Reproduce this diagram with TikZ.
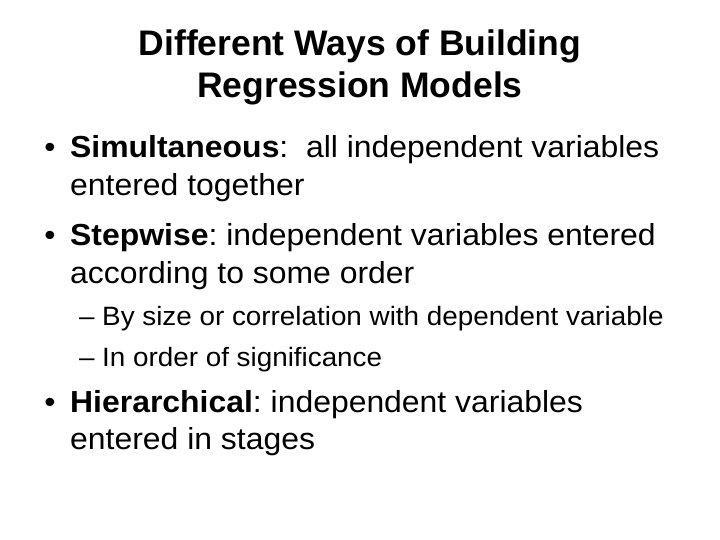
\documentclass[tikz,border=0pt]{standalone}
\usepackage{fontspec}
\setmainfont{Liberation Sans}
\newfontfamily\bodyfont[FakeStretch=1.05]{Liberation Sans}
\frenchspacing
\tikzset{
  slide title/.style={font=\fontsize{35.5}{42}\selectfont\bfseries, anchor=base, inner sep=0pt},
  bullet mark/.style={font=\bodyfont\fontsize{30.4}{37}\selectfont, anchor=base, inner sep=0pt},
  bullet text/.style={font=\bodyfont\fontsize{30.4}{37}\selectfont, anchor=base west, inner sep=0pt},
  sub mark/.style={font=\bodyfont\fontsize{26.5}{32}\selectfont, anchor=base west, inner sep=0pt},
  sub text/.style={font=\bodyfont\fontsize{26.5}{32}\selectfont, anchor=base west, inner sep=0pt}
}

\begin{document}
\begin{tikzpicture}[x=1pt, y=-1pt]
  \useasboundingbox (0,0) rectangle (720,540);

  \node[slide title] at (360,56) (title top) {Different Ways of Building};
  \node[slide title] at (360,98) (title bottom) {Regression Models};

  \node[bullet mark] at (50,158) (simul mark) {\textbullet};
  \node[bullet text] at (70,158) (simul) {\textbf{Simultaneous}:\ \ all independent variables};
  \node[bullet text] at (70,196) (simul more) {entered together};

  \node[bullet mark] at (50,245) (stepw mark) {\textbullet};
  \node[bullet text] at (70,245) (stepw) {\textbf{Stepwise}: independent variables entered};
  \node[bullet text] at (70,283) (stepw more) {according to some order};

  \node[sub mark] at (79,325) (size mark) {\textendash};
  \node[sub text] at (102,325) (size) {By size or correlation with dependent variable};

  \node[sub mark] at (79,366) (signif mark) {\textendash};
  \node[sub text] at (102,366) (signif) {In order of significance};

  \node[bullet mark] at (50,412) (hier mark) {\textbullet};
  \node[bullet text] at (70,412) (hier) {\textbf{Hierarchical}: independent variables};
  \node[bullet text] at (70,449) (hier more) {entered in stages};
\end{tikzpicture}
\end{document}
